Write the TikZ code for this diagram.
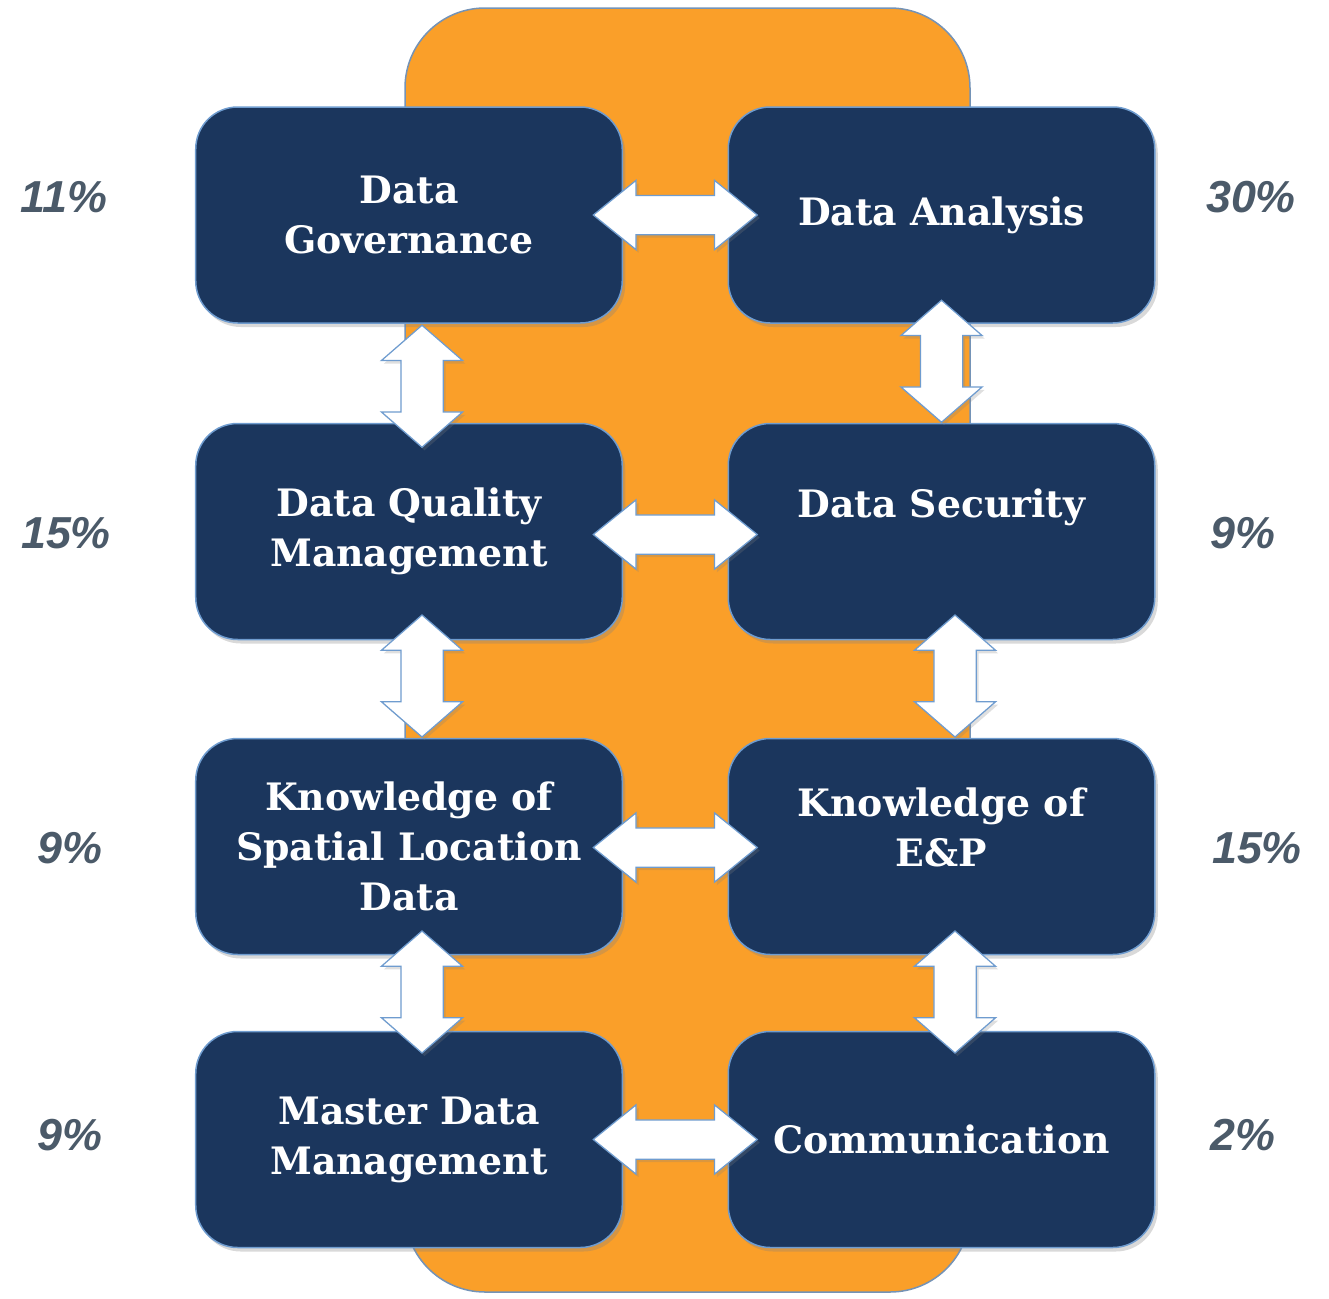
\documentclass[tikz,border=0pt]{standalone}
\usepackage{fontspec}
\setmainfont{DejaVu Serif}
\newfontfamily\pctfont{Liberation Sans}
\usetikzlibrary{shapes.arrows, calc, shadows}
\definecolor{navy}{HTML}{1B365D}
\definecolor{panel}{HTML}{FA9F29}
\definecolor{rim}{HTML}{6F9CCF}
\definecolor{pctgrey}{HTML}{4B5A69}

\begin{document}
\begin{tikzpicture}[x=0.2mm, y=-0.2mm,
  block/.style={draw=rim, line width=0.3mm, fill=navy, rounded corners=8.4mm,
    minimum width=85.3mm, minimum height=43.2mm,
    drop shadow={opacity=0.3, shadow xshift=0.6mm, shadow yshift=-0.8mm}},
  blocktext/.style={text=white, align=center, font=\fontsize{21.5}{28.4}\selectfont\bfseries},
  arrowbase/.style={double arrow, draw=rim, fill=white, line width=0.25mm,
    minimum width=0pt, inner xsep=0pt,
    drop shadow={opacity=0.25, shadow xshift=0.5mm, shadow yshift=-0.6mm}},
  harrow/.style={arrowbase, minimum height=32.8mm, inner ysep=3.8mm,
    double arrow head extend=3mm, double arrow tip angle=78},
  varrow/.style={arrowbase, rotate=90, minimum height=24.4mm, inner ysep=4.1mm,
    double arrow head extend=3.9mm, double arrow tip angle=98},
  pct/.style={text=pctgrey, font=\pctfont\fontsize{25.5}{30}\selectfont\bfseries\itshape}]

\useasboundingbox (0,0) rectangle (1329,1299);

\draw[draw=rim!70!gray, line width=0.3mm, fill=panel, rounded corners=16mm] (405,8) rectangle (970,1292);

\node[block] (gov) at (409,215) {};
\node[block] (ana) at (941.5,215) {};
\node[block] (dqm) at (409,531.5) {};
\node[block] (sec) at (941.5,531.5) {};
\node[block] (spa) at (409,846.5) {};
\node[block] (enp) at (941.5,846.5) {};
\node[block] (mdm) at (409,1139.5) {};
\node[block] (com) at (941.5,1139.5) {};

\node[blocktext] (gov-txt) at (gov) {Data\\Governance};
\node[blocktext] (ana-txt) at (ana) {Data Analysis};
\node[blocktext] (dqm-txt) at (dqm) {Data Quality\\Management};
\node[blocktext, yshift=4.9mm] (sec-txt) at (sec) {Data Security};
\node[blocktext] (spa-txt) at (spa) {Knowledge of\\Spatial Location\\Data};
\node[blocktext, yshift=3.9mm] (enp-txt) at (enp) {Knowledge of\\E\&P};
\node[blocktext] (mdm-txt) at (mdm) {Master Data\\Management};
\node[blocktext] (com-txt) at (com) {Communication};

\node[harrow] (gov-ana) at ($(gov.east)!0.5!(ana.west)$) {};
\node[harrow] (dqm-sec) at ($(dqm.east)!0.5!(sec.west)+(0,3)$) {};
\node[harrow] (spa-enp) at ($(spa.east)!0.5!(enp.west)+(0,1)$) {};
\node[harrow] (mdm-com) at ($(mdm.east)!0.5!(com.west)$) {};

\node[varrow] (gov-dqm) at ($(gov.south)!0.5!(dqm.north)+(13,13)$) {};
\node[varrow] (dqm-spa) at ($(dqm.south)!0.5!(spa.north)+(13,-13)$) {};
\node[varrow] (spa-mdm) at ($(spa.south)!0.5!(mdm.north)+(13,-1)$) {};
\node[varrow] (ana-sec) at ($(ana.south)!0.5!(sec.north)+(0,-12)$) {};
\node[varrow] (sec-enp) at ($(sec.south)!0.5!(enp.north)+(13.5,-13)$) {};
\node[varrow] (enp-com) at ($(enp.south)!0.5!(com.north)+(13.5,-1)$) {};

\node[pct] (p-gov) at (64,197) {11\%};
\node[pct] (p-ana) at (1251,197) {30\%};
\node[pct] (p-dqm) at (66,533) {15\%};
\node[pct] (p-sec) at (1243,533) {9\%};
\node[pct] (p-spa) at (70,848) {9\%};
\node[pct] (p-enp) at (1257,848) {15\%};
\node[pct] (p-mdm) at (70,1135) {9\%};
\node[pct] (p-com) at (1243,1135) {2\%};
\end{tikzpicture}
\end{document}
